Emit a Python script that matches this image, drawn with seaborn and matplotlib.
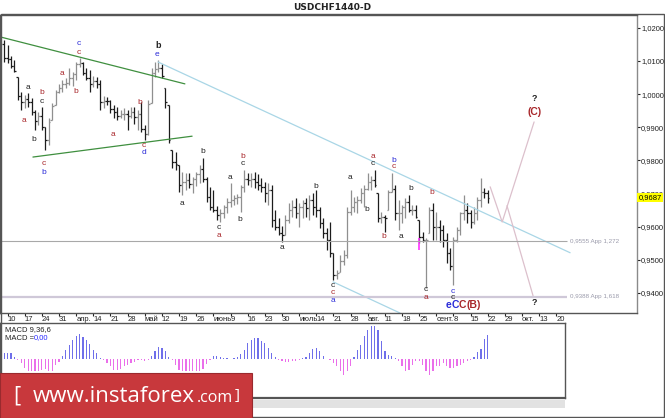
import numpy as np
import pandas as pd
import matplotlib
matplotlib.use('Agg')
import matplotlib.pyplot as plt
from matplotlib.patches import Rectangle
from matplotlib.ticker import FuncFormatter
from matplotlib.transforms import blended_transform_factory, ScaledTranslation
import seaborn as sns

# --- daily bars USDCHF, 9 mar 2017 .. 22 sep 2017 ---
highs = [
    1.0164, 1.0149, 1.0116, 1.0104, 1.0052, 1.0007, 0.9998, 1.0004, 0.9989, 0.9953,
    0.9947, 0.9962, 0.9901, 0.9928, 0.9974, 1.0013, 1.0031, 1.0043, 1.0049, 1.0079,
    1.0067, 1.0097, 1.0110, 1.0097, 1.0079, 1.0073, 1.0055, 1.0052, 1.0043, 0.9995,
    0.9992, 0.9983, 0.9968, 0.9962, 0.9953, 0.9959, 0.9953, 0.9962, 0.9962, 0.9953,
    0.9977, 0.9907, 0.9983, 1.0079, 1.0097, 1.0104, 1.0091, 1.0019, 0.9968, 0.9832,
    0.9826, 0.9786, 0.9765, 0.9762, 0.9762, 0.9750, 0.9765, 0.9786, 0.9808, 0.9750,
    0.9720, 0.9711, 0.9663, 0.9654, 0.9666, 0.9687, 0.9732, 0.9696, 0.9699, 0.9726,
    0.9771, 0.9762, 0.9762, 0.9765, 0.9759, 0.9747, 0.9735, 0.9732, 0.9726, 0.9651,
    0.9626, 0.9602, 0.9635, 0.9672, 0.9681, 0.9687, 0.9672, 0.9681, 0.9687, 0.9696,
    0.9702, 0.9711, 0.9660, 0.9626, 0.9596, 0.9614, 0.9521, 0.9469, 0.9515, 0.9530,
    0.9660, 0.9711, 0.9690, 0.9693, 0.9717, 0.9726, 0.9762, 0.9753, 0.9771, 0.9702,
    0.9645, 0.9635, 0.9711, 0.9762, 0.9726, 0.9681, 0.9666, 0.9687, 0.9696, 0.9666,
    0.9666, 0.9620, 0.9584, 0.9566, 0.9660, 0.9672, 0.9645, 0.9620, 0.9605, 0.9581,
    0.9536, 0.9569, 0.9599, 0.9645, 0.9696, 0.9672, 0.9651, 0.9660, 0.9690, 0.9747,
    0.9717, 0.9711]
lows = [
    1.0097, 1.0094, 1.0079, 1.0067, 0.9983, 0.9953, 0.9959, 0.9962, 0.9937, 0.9892,
    0.9907, 0.9892, 0.9832, 0.9847, 0.9922, 0.9968, 1.0004, 1.0007, 1.0019, 1.0028,
    1.0025, 1.0043, 1.0082, 1.0058, 1.0043, 1.0007, 1.0022, 1.0019, 0.9953, 0.9959,
    0.9968, 0.9944, 0.9928, 0.9922, 0.9928, 0.9922, 0.9892, 0.9928, 0.9910, 0.9892,
    0.9886, 0.9862, 0.9877, 0.9974, 1.0052, 1.0067, 1.0049, 0.9959, 0.9853, 0.9777,
    0.9771, 0.9705, 0.9696, 0.9711, 0.9717, 0.9702, 0.9723, 0.9732, 0.9735, 0.9675,
    0.9651, 0.9645, 0.9620, 0.9614, 0.9626, 0.9641, 0.9660, 0.9666, 0.9669, 0.9645,
    0.9705, 0.9726, 0.9720, 0.9717, 0.9711, 0.9705, 0.9675, 0.9666, 0.9599, 0.9590,
    0.9575, 0.9554, 0.9575, 0.9611, 0.9629, 0.9626, 0.9599, 0.9626, 0.9629, 0.9620,
    0.9635, 0.9629, 0.9596, 0.9566, 0.9530, 0.9509, 0.9439, 0.9442, 0.9463, 0.9485,
    0.9506, 0.9635, 0.9645, 0.9641, 0.9672, 0.9660, 0.9711, 0.9711, 0.9720, 0.9614,
    0.9611, 0.9584, 0.9651, 0.9705, 0.9620, 0.9590, 0.9611, 0.9626, 0.9645, 0.9635,
    0.9626, 0.9551, 0.9554, 0.9415, 0.9581, 0.9560, 0.9560, 0.9554, 0.9539, 0.9491,
    0.9469, 0.9424, 0.9554, 0.9575, 0.9620, 0.9611, 0.9596, 0.9608, 0.9620, 0.9660,
    0.9687, 0.9672]
closes = [
    1.0110, 1.0105, 1.0085, 1.0070, 0.9995, 0.9975, 0.9985, 0.9975, 0.9945, 0.9920,
    0.9935, 0.9900, 0.9860, 0.9915, 0.9965, 1.0005, 1.0020, 1.0030, 1.0035, 1.0050,
    1.0060, 1.0090, 1.0095, 1.0065, 1.0050, 1.0030, 1.0040, 1.0030, 0.9975, 0.9980,
    0.9978, 0.9955, 0.9945, 0.9935, 0.9940, 0.9940, 0.9935, 0.9945, 0.9930, 0.9940,
    0.9895, 0.9880, 0.9970, 1.0065, 1.0075, 1.0080, 1.0055, 0.9975, 0.9860, 0.9795,
    0.9790, 0.9725, 0.9735, 0.9740, 0.9730, 0.9745, 0.9760, 0.9775, 0.9745, 0.9690,
    0.9660, 0.9650, 0.9635, 0.9640, 0.9660, 0.9675, 0.9680, 0.9685, 0.9690, 0.9720,
    0.9745, 0.9740, 0.9745, 0.9735, 0.9725, 0.9720, 0.9700, 0.9710, 0.9620, 0.9600,
    0.9580, 0.9575, 0.9620, 0.9650, 0.9660, 0.9640, 0.9660, 0.9670, 0.9655, 0.9680,
    0.9660, 0.9650, 0.9610, 0.9580, 0.9560, 0.9520, 0.9455, 0.9460, 0.9495, 0.9515,
    0.9645, 0.9660, 0.9675, 0.9680, 0.9700, 0.9715, 0.9735, 0.9740, 0.9725, 0.9625,
    0.9630, 0.9625, 0.9705, 0.9715, 0.9640, 0.9640, 0.9660, 0.9675, 0.9650, 0.9650,
    0.9630, 0.9570, 0.9560, 0.9560, 0.9650, 0.9600, 0.9600, 0.9590, 0.9560, 0.9520,
    0.9480, 0.9560, 0.9590, 0.9640, 0.9650, 0.9640, 0.9615, 0.9640, 0.9680, 0.9705,
    0.9700, 0.9687]
first_open = 1.0150
last_price = 0.9687

# MACD(9,36,6) histogram, in pips
macd_hist = [
    18, 18, 18, 6,
    -3, -12, -27, -36, -36, -36, -36, -33, -30, -36, -36, -18, -9,
    9, 27, 42, 57, 69, 75, 66, 57, 45, 27, 18, 3,
    -3, -12, -21, -33, -33, -30, -21, -18, -12, -9, -3, -3, -6, -3,
    9, 24, 36, 33, 24, 6,
    -3, -18, -33, -36, -36, -36, -36, -36, -36, -30, -15, -3,
    9, 9, 6, 3, 3, 1, 3, 6, 15, 27, 48, 57, 63, 63, 54, 48, 33, 18, 6,
    -3, -6, -9, -9, -6, -6, -3,
    3, 6, 18, 30, 33, 24, 9, 0,
    -3, -12,
    -21, -36, -48, -36, -21,
    6, 27, 42, 69, 87, 99, 99, 87, 54, 24, 12, 9, 3,
    -6, -21, -36, -33, -18, -6, -6, -18, -36, -48, -36, -21, -21, -12, -21, -27,
    -27, -21, -18, -12, -6, -3,
    6, 21, 30, 60, 72]

# date axis (fridays)
date_labels = ['10', '17', '24', '31', 'апр.', '14', '21', '28', 'май', '12', '19',
               '26', 'июнь', '9', '16', '23', '30', 'июль', '14', '21', '28', 'авг.',
               '11', '18', '25', 'сент.', '8', '15', '22', '29', 'окт.', '13', '20']

# wave counts: (text, bar, price, colour)
RED, BLUE, BLK = '#a8262a', '#2b2bd8', '#222222'
wave_labels = [
    ('c', 21.8, 1.0152, BLUE), ('c', 21.8, 1.0125, RED),
    ('e', 44.6, 1.0119, BLUE),
    ('a', 16.9, 1.0061, RED), ('b', 21.0, 1.0007, RED),
    ('a', 7.0, 1.0019, BLK), ('b', 11.0, 1.0004, RED),
    ('c', 11.0, 0.9977, BLK), ('a', 5.8, 0.9919, RED),
    ('b', 8.7, 0.9862, BLK), ('c', 11.6, 0.9792, RED),
    ('b', 11.6, 0.9762, BLUE), ('a', 31.7, 0.9877, RED),
    ('b', 39.6, 0.9974, RED), ('c', 40.8, 0.9844, RED),
    ('d', 40.8, 0.9823, BLUE), ('a', 51.9, 0.9669, BLK),
    ('b', 58.0, 0.9826, BLK), ('b', 69.7, 0.9811, RED),
    ('c', 69.7, 0.9790, BLK), ('a', 65.9, 0.9747, BLK),
    ('b', 68.8, 0.9620, BLK), ('c', 62.7, 0.9596, BLK),
    ('a', 62.7, 0.9572, RED), ('a', 81.0, 0.9536, BLK),
    ('b', 91.0, 0.9720, BLK), ('c', 95.9, 0.9421, BLK),
    ('c', 95.9, 0.9400, RED), ('a', 95.9, 0.9376, BLUE),
    ('a', 100.8, 0.9747, BLK), ('b', 105.8, 0.9653, BLK),
    ('a', 107.5, 0.9811, RED), ('c', 107.5, 0.9790, BLK),
    ('b', 113.7, 0.9799, BLUE), ('c', 113.7, 0.9780, RED),
    ('b', 118.6, 0.9714, BLK), ('b', 110.8, 0.9569, RED),
    ('a', 115.7, 0.9569, BLK), ('b', 124.7, 0.9702, RED),
    ('c', 123.0, 0.9409, BLK), ('a', 123.0, 0.9385, RED),
    ('c', 130.9, 0.9404, BLUE), ('c', 130.9, 0.9386, BLK),
]
# bold marks: (text, bar, price, colour, size)
bold_labels = [
    ('b', 44.9, 1.0146, BLK, 6.5),
    ('?', 154.5, 0.9370, BLK, 6.5), ('?', 154.5, 0.9986, BLK, 6.5),
    ('(C)', 154.5, 0.9946, RED, 7.5),
]
# combined label "eCC(B)" at the september low
combo_parts = [('e', BLUE), ('C', BLUE), ('C', RED), ('(B)', RED)]
combo_pos = (129.6, 0.9362)

# trend channels and projections (bar, price)
green_upper = ([-1.2, 52.7], [1.0173, 1.0031])
green_lower = ([8.4, 54.8], [0.9810, 0.9873])
blue_upper = ([44.9, 165.0], [1.0097, 0.9521])
blue_lower = ([95.9, 115.4], [0.9433, 0.9339])
path_up = ([141.7, 145.2, 154.5], [0.9720, 0.9614, 0.9916])
path_down = ([146.6, 154.2], [0.9663, 0.9391])
levels = [0.9555, 0.9388]
level_text = ['0,9555 App 1,272', '0,9388 App 1,618']

sns.set_theme(style='white')
plt.rcParams['font.family'] = ['Liberation Sans', 'DejaVu Sans']

W, H = 665, 418
fig = plt.figure(figsize=(W / 100, H / 100), dpi=100)
fig.patch.set_facecolor('white')


def box(l, t, r, b):
    return [l / W, 1 - b / H, (r - l) / W, (b - t) / H]


ax = fig.add_axes(box(0, 15, 637, 313))
ax2 = fig.add_axes(box(0, 323, 565, 398))

highs = np.array(highs)
lows = np.array(lows)
closes = np.array(closes)
idx = np.arange(len(highs))
opens = np.clip(np.r_[first_open, closes[:-1]], lows, highs)
up = closes >= opens

# OHLC bars
for mask, col in ((up, '#8f8f8f'), (~up, '#1c1c1c')):
    ax.vlines(idx[mask], lows[mask], highs[mask], color=col, lw=0.9)
    ax.hlines(opens[mask], idx[mask] - 0.5, idx[mask], color=col, lw=0.9)
    ax.hlines(closes[mask], idx[mask], idx[mask] + 0.5, color=col, lw=0.9)

ax.plot(*green_upper, color='#3f8f3f', lw=0.9)
ax.plot(*green_lower, color='#3f8f3f', lw=0.9)
ax.plot(*blue_upper, color='#a9d6e6', lw=0.9)
ax.plot(*blue_lower, color='#a9d6e6', lw=0.9)
ax.plot(*path_up, color='#dcc0cc', lw=0.9)
ax.plot(*path_down, color='#dcc0cc', lw=0.9)
ax.vlines(121, 0.9530, 0.9566, color='#ff33ff', lw=1.2)

for lev, txt, col, lw in zip(levels, level_text, ['#a8a8a8', '#cfc8d8'], [0.8, 1.6]):
    ax.hlines(lev, -1.2, 164.1, color=col, lw=lw)
    ax.text(165.0, lev, txt, fontsize=4.5, color='#9a9aaa', va='center', ha='left')

for txt, xb, yp, col in wave_labels:
    ax.text(xb, yp, txt, color=col, fontsize=6, ha='center', va='center')
for txt, xb, yp, col, fs in bold_labels:
    ax.text(xb, yp, txt, color=col, fontsize=fs, ha='center', va='center', fontweight='bold')

prev = None
for txt, col in combo_parts:
    if prev is None:
        prev = ax.text(*combo_pos, txt, color=col, fontsize=7.5, fontweight='bold',
                       ha='center', va='center')
    else:
        prev = ax.annotate(txt, xy=(1, 0.5), xycoords=prev, color=col, fontsize=7.5,
                           fontweight='bold', ha='left', va='center')

ax.set_xlim(-1.2, 184.5)
ax.set_ylim(0.9339, 1.0239)

dates = pd.bdate_range('2017-03-09', '2017-10-20')
fridays = np.where(dates.dayofweek == 4)[0]
ax.set_xticks(fridays)
ax.set_xticklabels(date_labels)
shift = ScaledTranslation(1.5 / 100, 0, fig.dpi_scale_trans)
for lab in ax.get_xticklabels():
    lab.set_horizontalalignment('left')
    lab.set_transform(lab.get_transform() + shift)
ax.tick_params(axis='x', length=2.5, width=0.8, pad=0, labelsize=5.5, colors='#222222',
               bottom=True, direction='out')

ax.yaxis.tick_right()
ax.set_yticks(np.arange(0.94, 1.0201, 0.01))
ax.yaxis.set_major_formatter(FuncFormatter(lambda v, p: f'{v:.4f}'.replace('.', ',')))
ax.tick_params(axis='y', length=2, width=0.8, pad=1, labelsize=5.5, colors='#222222',
               right=True, direction='out')

for side, col in (('left', '#555555'), ('top', '#555555'), ('bottom', '#555555'), ('right', '#8a8a8a')):
    ax.spines[side].set_color(col)
    ax.spines[side].set_linewidth(1)

# current price marker (drawn over the 0,9700 label like the terminal does)
tr = blended_transform_factory(ax.transAxes, ax.transData)
ax.text(1.002, last_price, f'{last_price:.4f}'.replace('.', ','), transform=tr, fontsize=5.5,
        va='center', ha='left', color='black', zorder=5,
        bbox=dict(facecolor='#ffff00', edgecolor='none', pad=0.8))

# MACD pane
macd_df = pd.DataFrame({'bar': idx, 'macd': macd_hist,
                        'sign': np.where(np.array(macd_hist) >= 0, 'pos', 'neg')})
sns.barplot(data=macd_df, x='bar', y='macd', hue='sign', native_scale=True, dodge=False,
            palette={'pos': '#5a5aff', 'neg': '#ff5aff'}, width=0.35, errorbar=None,
            legend=False, linewidth=0, ax=ax2)
ax2.set_xlim(-1.2, 163.5)
ax2.set_ylim(-117, 108)
ax2.set_xticks([])
ax2.set_yticks([])
ax2.set_xlabel('')
ax2.set_ylabel('')
for side in ax2.spines:
    ax2.spines[side].set_color('#555555')
    ax2.spines[side].set_linewidth(1)
ax2.spines['bottom'].set_linewidth(1.6)
ax2.text(0.008, 0.91, 'MACD 9,36,6', transform=ax2.transAxes, fontsize=5.5, va='center', color='#222222')
t = ax2.text(0.008, 0.80, 'MACD =', transform=ax2.transAxes, fontsize=5.5, va='center', color='#222222')
ax2.annotate('0,00', xycoords=t, xy=(1, 0.5), va='center', fontsize=5.5, color='#2b2bff')

# title and frame
fig.text(332 / W, 1 - 7.5 / H, 'USDCHF1440-D', ha='center', va='center', fontsize=6.5,
         fontweight='bold', color='#222222', family='DejaVu Sans')
fig.add_artist(Rectangle((0, 1 - 408 / H), 565 / W, 8 / H, transform=fig.transFigure,
                         facecolor='#e2e2e2', edgecolor='none'))
fig.add_artist(Rectangle((0.5 / W, 1 - 417 / H), 664 / W - 0.5 / W, 403 / H, transform=fig.transFigure,
                         fill=False, edgecolor='#555555', lw=1))

# banner
fig.add_artist(Rectangle((0, 0), 252 / W, 45 / H, transform=fig.transFigure,
                         facecolor='#c8383c', edgecolor='#9a2a2e', lw=0.8))
fig.text(17 / W, 1 - 396 / H, '[', fontsize=16, color='white', ha='center', va='center',
         family='Open Sans')
www = fig.text(33 / W, 1 - 402 / H, 'www.instaforex', fontsize=16, color='white', ha='left',
               va='baseline', family='Open Sans')
fig.text(197 / W, 1 - 402 / H, '.com', fontsize=11.5, color='white', ha='left',
         va='baseline', family='Open Sans')
fig.text(237 / W, 1 - 396 / H, ']', fontsize=11, color='white', ha='center', va='center',
         family='Open Sans')

fig.savefig('out.png', dpi=100)
